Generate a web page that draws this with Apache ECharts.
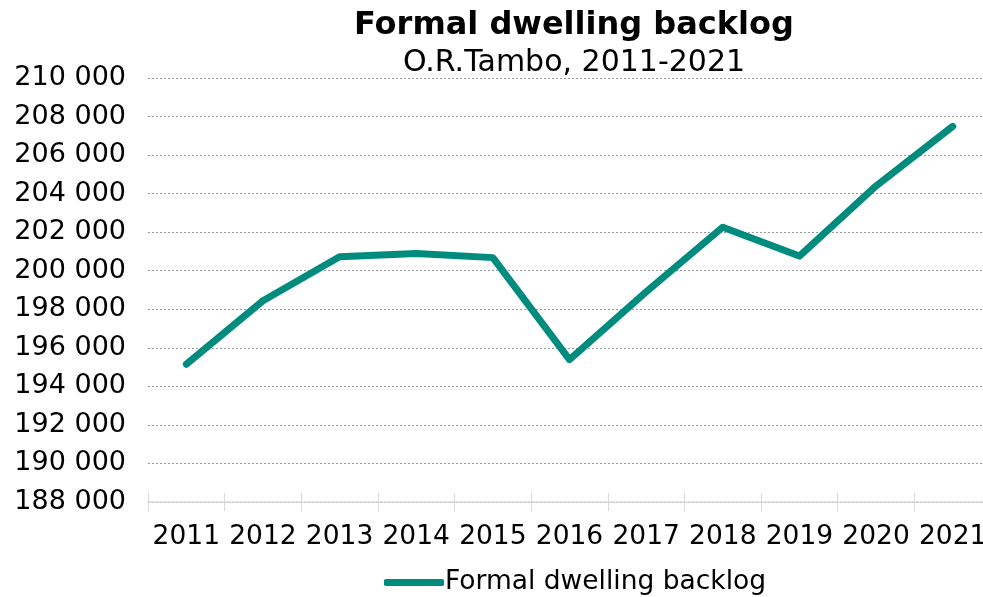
<!DOCTYPE html>
<html>
<head>
<meta charset="utf-8">
<script src="https://cdn.jsdelivr.net/npm/echarts@6/dist/echarts.min.js"></script>
<style>
  html, body { margin: 0; padding: 0; background: #fff; overflow: hidden; }
  /* the reference's plot runs a little past the right edge of the picture */
  #chart { width: 993px; height: 597px; }
</style>
</head>
<body>
<div id="chart"></div>
<script>
// categories and values
const years = ["2011", "2012", "2013", "2014", "2015", "2016", "2017", "2018", "2019", "2020", "2021"];
const backlog = [195150, 198440, 200730, 200900, 200680, 195390, 198900, 202260, 200760, 204400, 207490];
const seriesName = "Formal dwelling backlog";

const fontFamily = "Verdana, 'DejaVu Sans', sans-serif";
const fmt = (v) => String(v).replace(/\B(?=(\d{3})+(?!\d))/g, " ");

const chart = echarts.init(document.getElementById("chart"));
chart.setOption({
  animation: false,
  textStyle: { fontFamily },
  title: {
    text: "Formal dwelling backlog",
    subtext: "O.R.Tambo, 2011-2021",
    left: 569,
    textAlign: "center",
    top: 5,
    itemGap: 6,
    textStyle: { fontSize: 32, fontWeight: "bold", color: "#000", fontFamily },
    subtextStyle: { fontSize: 30, color: "#000", fontFamily },
  },
  legend: {
    bottom: -4,
    left: 379,
    itemWidth: 60,
    itemHeight: 7,
    itemGap: 4,
    icon: "roundRect",
    data: [seriesName],
    textStyle: { fontSize: 26.5, color: "#000", padding: [0, 0, 0, -4], fontFamily },
  },
  grid: {
    left: 148,
    top: 78,
    right: 2,
    height: 424,
  },
  xAxis: [
    {
      type: "category",
      data: years,
      boundaryGap: true,
      axisLine: { lineStyle: { color: "#d9d9d9", width: 1.5 } },
      axisTick: { show: true, length: 9, lineStyle: { color: "#d9d9d9" } },
      axisLabel: { fontSize: 26.5, color: "#000", margin: 22, interval: 0 },
    },
    {
      type: "category",
      data: years,
      position: "bottom",
      boundaryGap: true,
      axisLine: { show: false },
      axisTick: { show: true, inside: true, length: 9, lineStyle: { color: "#d9d9d9" } },
      axisLabel: { show: false },
    },
  ],
  yAxis: {
    type: "value",
    min: 188000,
    max: 210000,
    interval: 2000,
    axisLine: { show: false },
    axisTick: { show: false },
    axisLabel: { fontSize: 27, color: "#000", margin: 22, formatter: fmt },
    splitLine: { lineStyle: { color: "#999", type: [2, 2], width: 1 } },
  },
  series: [
    {
      name: seriesName,
      type: "line",
      data: backlog,
      symbol: "none",
      lineStyle: { color: "#008b7f", width: 7, cap: "round", join: "round" },
      itemStyle: { color: "#008b7f" },
    },
  ],
});
</script>
</body>
</html>
